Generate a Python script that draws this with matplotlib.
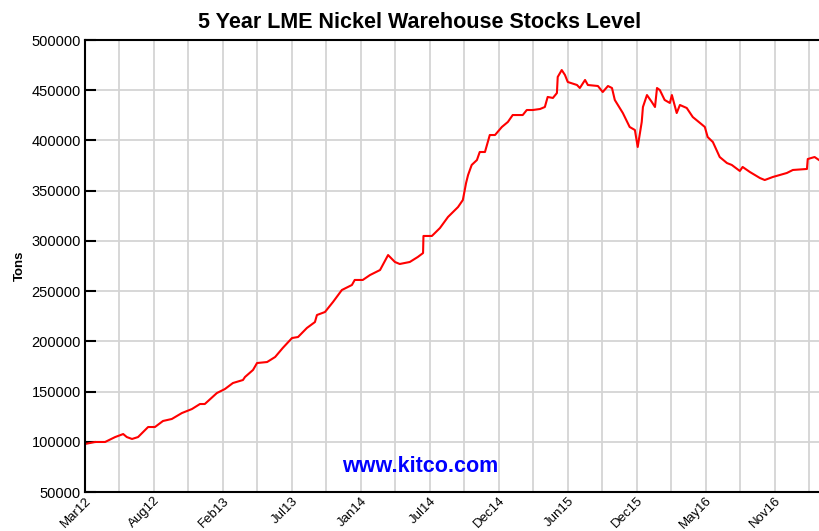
import numpy as np
import matplotlib
matplotlib.use("Agg")
import matplotlib.pyplot as plt

plt.rcParams["font.family"] = ["Liberation Sans", "DejaVu Sans"]

# days since 1 Mar 2012 and warehouse stocks (tons)
days = [0, 25, 50, 75, 95, 104, 117, 132, 157, 174, 194, 216, 241, 266, 286, 298,
        328, 348, 368, 393, 398, 418, 428, 453, 473, 492, 515, 530, 552, 572, 577,
        597, 617, 639, 664, 671, 691, 709, 734, 754, 771, 783, 808, 828, 841, 842,
        863, 883, 903, 928, 940, 948, 953, 962, 975, 982, 995, 1007, 1020, 1037,
        1052, 1064, 1089, 1099, 1114, 1132, 1144, 1151, 1164, 1174, 1176, 1186,
        1194, 1201, 1224, 1231, 1244, 1251, 1276, 1288, 1301, 1311, 1318, 1338,
        1355, 1368, 1375, 1385, 1388, 1398, 1410, 1418, 1423, 1430, 1442, 1455,
        1460, 1472, 1480, 1497, 1512, 1530, 1542, 1549, 1562, 1579, 1597, 1609,
        1629, 1636, 1654, 1679, 1691, 1711, 1746, 1761, 1796, 1798, 1815, 1826]
tons = [97800, 99800, 99800, 104700, 107700, 104700, 102800, 104700, 114700, 114700,
        120700, 122700, 128600, 132600, 137600, 137600, 148500, 152500, 158500,
        161500, 164500, 171500, 178400, 179400, 184400, 193400, 203300, 204300,
        213300, 219200, 226200, 229200, 239200, 251100, 256100, 261100, 261100,
        266000, 271000, 285900, 279000, 277000, 279000, 284000, 287900, 304900,
        304900, 312800, 323800, 333700, 340700, 357600, 365600, 375600, 380500,
        388500, 388500, 405400, 405400, 413400, 418400, 425300, 425300, 430300,
        430300, 431300, 433300, 443300, 442300, 447200, 463200, 470100, 465200,
        458200, 455200, 452200, 460200, 455200, 454200, 448200, 454200, 452200,
        440300, 427300, 413400, 410400, 393500, 418400, 433300, 445200, 438300,
        433300, 452200, 450200, 440300, 437300, 445200, 427300, 435300, 432300,
        423300, 417400, 413400, 403400, 398400, 383500, 377500, 375600, 369600,
        373600, 368600, 362600, 360600, 363600, 367600, 370600, 371600, 381500,
        383500, 380500]
tick_labels = ["Mar12", "Aug12", "Feb13", "Jul13", "Jan14", "Jul14",
               "Dec14", "Jun15", "Dec15", "May16", "Nov16"]
step = 171.6

fig = plt.figure(figsize=(8.19, 5.31), dpi=100)
ax = fig.add_axes([85 / 819, 39 / 531, 1 - 85 / 819, 452 / 531])

ax.plot(days, tons, color="#ff0000", lw=1.5)

ax.set_xlim(0, 1826)
ax.set_ylim(50000, 500000)
ax.set_yticks(np.arange(50000, 500001, 50000))
ax.set_xticks(np.arange(len(tick_labels)) * step)
ax.set_xticks(np.arange(0, 1826, step / 2), minor=True)
ax.set_xticklabels(tick_labels, rotation=45, ha="right", rotation_mode="anchor",
                   fontsize=9.5)
ax.tick_params(axis="y", labelsize=10.5, direction="in", length=8, width=1.5, pad=3)
ax.tick_params(axis="x", which="both", length=0, pad=2)
ax.grid(True, which="both", color="#d4d4d4", lw=1.3)
ax.set_axisbelow(True)

for side in ["left", "bottom", "top"]:
    ax.spines[side].set_linewidth(1.5)
ax.spines["right"].set_visible(False)

ax.set_ylabel("Tons", fontsize=9.5, fontweight="bold", labelpad=4)
fig.text(420 / 819, 1 - 22 / 531, "5 Year LME Nickel Warehouse Stocks Level",
         ha="center", va="center", fontsize=15.5, fontweight="bold")
fig.text(420 / 819, 1 - 466 / 531, "www.kitco.com", ha="center", va="center",
         fontsize=15.5, fontweight="bold", color="#0000ff")

fig.savefig("out.png", dpi=100)
